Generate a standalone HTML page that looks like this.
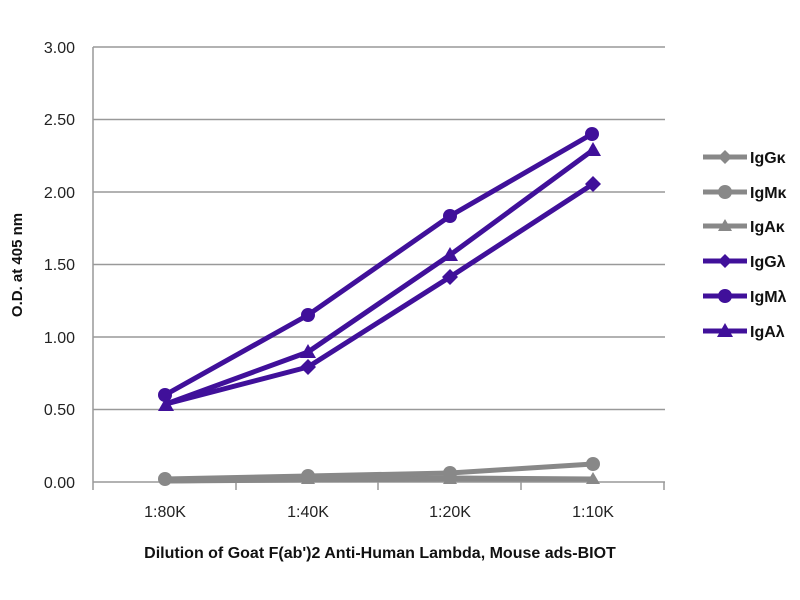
<!DOCTYPE html>
<html><head><meta charset="utf-8"><style>body{margin:0;background:#fff}svg{display:block}</style></head>
<body>
<svg width="800" height="600" xmlns="http://www.w3.org/2000/svg" font-family="Liberation Sans, sans-serif">
<g stroke="#999" stroke-width="1.5">
<line x1="93" y1="47" x2="665" y2="47"/><line x1="93" y1="119.5" x2="665" y2="119.5"/>
<line x1="93" y1="192" x2="665" y2="192"/><line x1="93" y1="264.5" x2="665" y2="264.5"/>
<line x1="93" y1="337" x2="665" y2="337"/><line x1="93" y1="409.5" x2="665" y2="409.5"/>
<line x1="93" y1="482" x2="665" y2="482"/>
<line x1="93" y1="47" x2="93" y2="482"/>
<line x1="93" y1="482" x2="93" y2="490"/><line x1="236" y1="482" x2="236" y2="490"/>
<line x1="378" y1="482" x2="378" y2="490"/><line x1="521" y1="482" x2="521" y2="490"/>
<line x1="664" y1="482" x2="664" y2="490"/>
</g>
<g font-size="16" fill="#222" text-anchor="end">
<text x="75" y="53">3.00</text><text x="75" y="125">2.50</text><text x="75" y="198">2.00</text>
<text x="75" y="270">1.50</text><text x="75" y="343">1.00</text><text x="75" y="415">0.50</text><text x="75" y="488">0.00</text>
</g>
<g font-size="16" fill="#222" text-anchor="middle">
<text x="165" y="517">1:80K</text><text x="308" y="517">1:40K</text><text x="450" y="517">1:20K</text><text x="593" y="517">1:10K</text>
</g>
<text x="380" y="558" font-size="16" font-weight="bold" text-anchor="middle" fill="#111">Dilution of Goat F(ab')2 Anti-Human Lambda, Mouse ads-BIOT</text>
<text transform="translate(22,265) rotate(-90)" font-size="15" font-weight="bold" text-anchor="middle" fill="#111">O.D. at 405 nm</text>
<!-- grey series -->
<g stroke="#888" stroke-width="5" fill="none" stroke-linejoin="round">
<polyline points="165,481 308,479 450,478 593,479"/>
<polyline points="165,481 308,480 450,479 593,479"/>
<polyline points="165,479 308,476 450,473 593,464"/>
</g>
<g fill="#888">
<circle cx="165" cy="479" r="7"/><circle cx="308" cy="476" r="7"/><circle cx="450" cy="473" r="7"/><circle cx="593" cy="464" r="7"/>
<polygon points="593,472 600,484 586,484"/><polygon points="450,472 457,484 443,484"/><polygon points="308,472 315,484 301,484"/>
</g>
<!-- purple series -->
<g stroke="#40109a" stroke-width="5" fill="none" stroke-linejoin="round">
<polyline points="166,404 308,367 450,277 593,184"/>
<polyline points="166,404 308,352 450,255 593,150"/>
<polyline points="165,395 308,315 450,216 592,134"/>
</g>
<g fill="#40109a">
<circle cx="165" cy="395" r="7"/><circle cx="308" cy="315" r="7"/><circle cx="450" cy="216" r="7"/><circle cx="592" cy="134" r="7"/>
<polygon points="166,397 174,411 158,411"/><polygon points="308,344 316,358 300,358"/><polygon points="450,247 458,261 442,261"/><polygon points="593,142 601,156 585,156"/>
<polygon points="308,359 316,367 308,375 300,367"/><polygon points="450,269 458,277 450,285 442,277"/><polygon points="593,176 601,184 593,192 585,184"/>
</g>
<!-- legend -->
<g stroke-width="5">
<line x1="703" y1="157" x2="747" y2="157" stroke="#888"/>
<line x1="703" y1="192" x2="747" y2="192" stroke="#888"/>
<line x1="703" y1="226" x2="747" y2="226" stroke="#888"/>
<line x1="703" y1="261" x2="747" y2="261" stroke="#40109a"/>
<line x1="703" y1="296" x2="747" y2="296" stroke="#40109a"/>
<line x1="703" y1="331" x2="747" y2="331" stroke="#40109a"/>
</g>
<polygon points="725,150 732,157 725,164 718,157" fill="#888"/>
<circle cx="725" cy="192" r="7" fill="#888"/>
<polygon points="725,219 732,231 718,231" fill="#888"/>
<polygon points="725,254 732,261 725,268 718,261" fill="#40109a"/>
<circle cx="725" cy="296" r="7" fill="#40109a"/>
<polygon points="725,323 733,337 717,337" fill="#40109a"/>
<g font-size="16" font-weight="bold" fill="#111">
<text x="750" y="163">IgGκ</text><text x="750" y="198">IgMκ</text><text x="750" y="232">IgAκ</text>
<text x="750" y="267">IgGλ</text><text x="750" y="302">IgMλ</text><text x="750" y="337">IgAλ</text>
</g>
</svg>
</body></html>
